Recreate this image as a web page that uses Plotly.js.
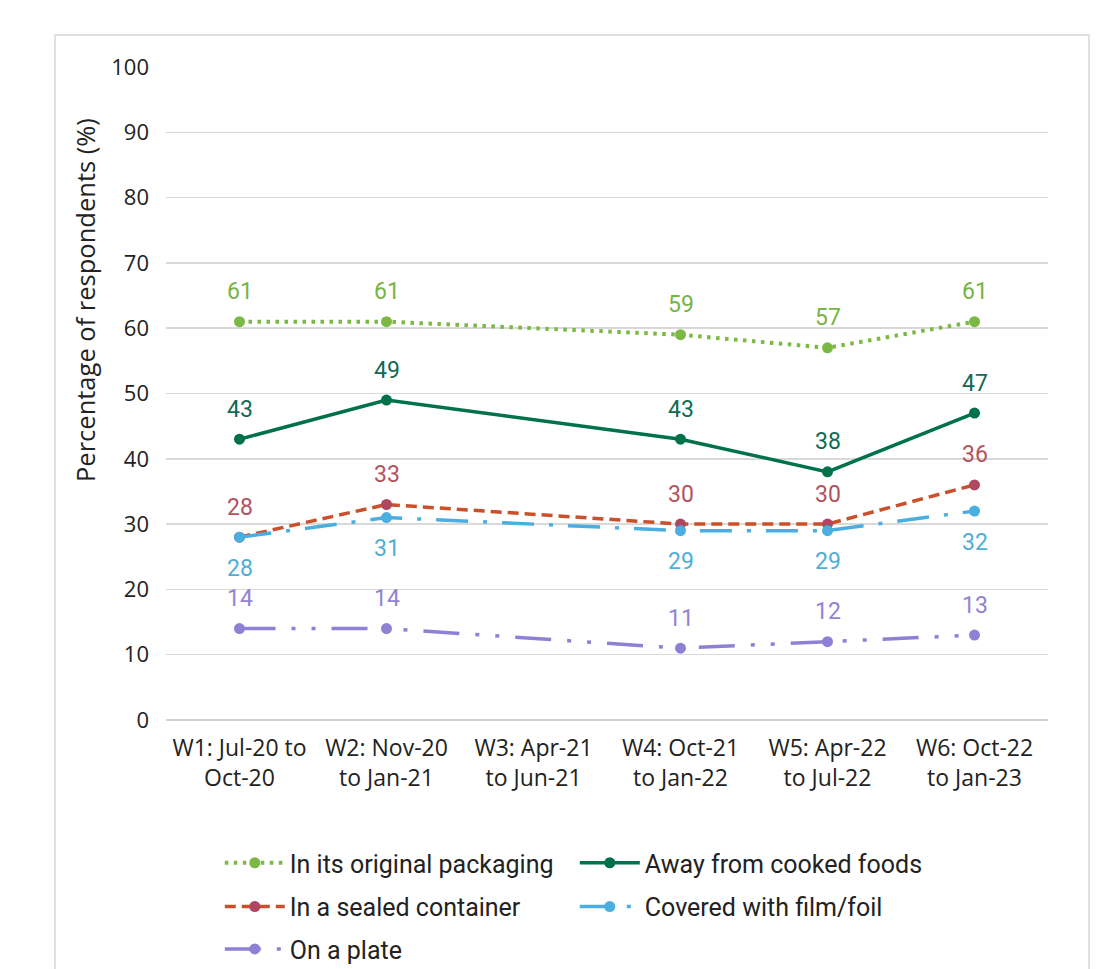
<!DOCTYPE html>
<html>
<head>
<meta charset="utf-8">
<script src="https://cdn.plot.ly/plotly-3.0.1.min.js"></script>
<style>html,body{margin:0;padding:0;background:#fff;}#chart{width:1113px;height:969px;}</style>
</head>
<body>
<div id="chart"></div>
<script>
const categories = ["W1: Jul-20 to<br>Oct-20", "W2: Nov-20<br>to Jan-21", "W3: Apr-21<br>to Jun-21", "W4: Oct-21<br>to Jan-22", "W5: Apr-22<br>to Jul-22", "W6: Oct-22<br>to Jan-23"];
const originalPackaging = [61, 61, null, 59, 57, 61];
const awayFromCooked = [43, 49, null, 43, 38, 47];
const sealedContainer = [28, 33, null, 30, 30, 36];
const filmFoil = [28, 31, null, 29, 29, 32];
const onPlate = [14, 14, null, 11, 12, 13];
const yTicks = [0, 10, 20, 30, 40, 50, 60, 70, 80, 90, 100];

const series = [
  {name: "In its original packaging", y: originalPackaging, line: "#7cb944", marker: "#7cb944", label: "#77b347", dash: "3.5px,5.5px", width: 4, above: true, legend: "legend"},
  {name: "Away from cooked foods", y: awayFromCooked, line: "#00714d", marker: "#00714d", label: "#0f6a56", dash: "solid", width: 3.5, above: true, legend: "legend"},
  {name: "In a sealed container", y: sealedContainer, line: "#c9502a", marker: "#ad4860", label: "#b2535f", dash: "11px,6px", width: 3.5, above: true, legend: "legend2"},
  {name: "Covered with film/foil", y: filmFoil, line: "#4aaee0", marker: "#4aaee0", label: "#4eaed6", dash: "32px,15px,4px,15px", width: 3.5, above: false, legend: "legend2"},
  {name: "On a plate", y: onPlate, line: "#8e81d5", marker: "#8e81d5", label: "#9283d2", dash: "36px,16px,4px,16px,4px,16px", width: 3.5, above: true, legend: "legend3"}
];

const traces = series.map(s => ({
  type: "scatter", mode: "lines+markers", name: s.name, legend: s.legend,
  x: categories, y: s.y, connectgaps: true,
  line: {color: s.line, width: s.width, dash: s.dash},
  marker: {color: s.marker, size: 11},
  hoverinfo: "skip"
}));

const annotations = [];
series.forEach(s => {
  s.y.forEach((v, i) => {
    if (v === null) return;
    annotations.push({
      x: categories[i], y: v, xref: "x", yref: "y", text: String(v),
      showarrow: false, yshift: s.above ? 30 : -31,
      font: {family: "Roboto, 'Open Sans', sans-serif", size: 23, color: s.label}
    });
  });
});
annotations.push({
  xref: "paper", yref: "paper", x: -0.092, y: 0.643, text: "Percentage of respondents (%)",
  textangle: -90, showarrow: false, xanchor: "center", yanchor: "middle",
  font: {family: "'Open Sans', sans-serif", size: 25.5, color: "#222"}
});

const legendBase = (yv) => ({
  orientation: "h", x: 0.061, xanchor: "left", y: yv, yanchor: "middle",
  entrywidth: 280, entrywidthmode: "pixels", itemwidth: 60,
  font: {family: "Roboto, sans-serif", size: 25, color: "#222"},
  itemclick: false, itemdoubleclick: false, bgcolor: "rgba(0,0,0,0)"
});

const layout = {
  width: 1113, height: 969,
  margin: {l: 166, r: 65, t: 67, b: 249, autoexpand: false},
  paper_bgcolor: "#fff", plot_bgcolor: "#fff",
  showlegend: true,
  xaxis: {
    type: "category", range: [-0.5, 5.5], showgrid: false, zeroline: false, showline: false,
    automargin: false,
    ticks: "", tickfont: {family: "'Open Sans', sans-serif", size: 23, color: "#222"},
    ticklabelstandoff: 12
  },
  yaxis: {
    range: [0, 100], tickvals: yTicks, showgrid: true, gridcolor: "#d9d9d9", gridwidth: 1.5,
    automargin: false,
    zeroline: true, zerolinecolor: "#d0d0d0", zerolinewidth: 1.5, showline: false, ticks: "",
    tickfont: {family: "'Open Sans', sans-serif", size: 22, color: "#222"},
    ticklabelstandoff: 16
  },
  legend: legendBase(-0.219),
  legend2: legendBase(-0.286),
  legend3: legendBase(-0.351),
  shapes: [{
    type: "rect", xref: "paper", yref: "paper",
    x0: -0.1259, x1: 1.0465, y0: -0.5, y1: 1.049,
    line: {color: "#e0e0e0", width: 2}, fillcolor: "rgba(0,0,0,0)", layer: "below"
  }],
  annotations: annotations
};

Plotly.newPlot("chart", traces, layout, {displayModeBar: false, staticPlot: true});
</script>
</body>
</html>
